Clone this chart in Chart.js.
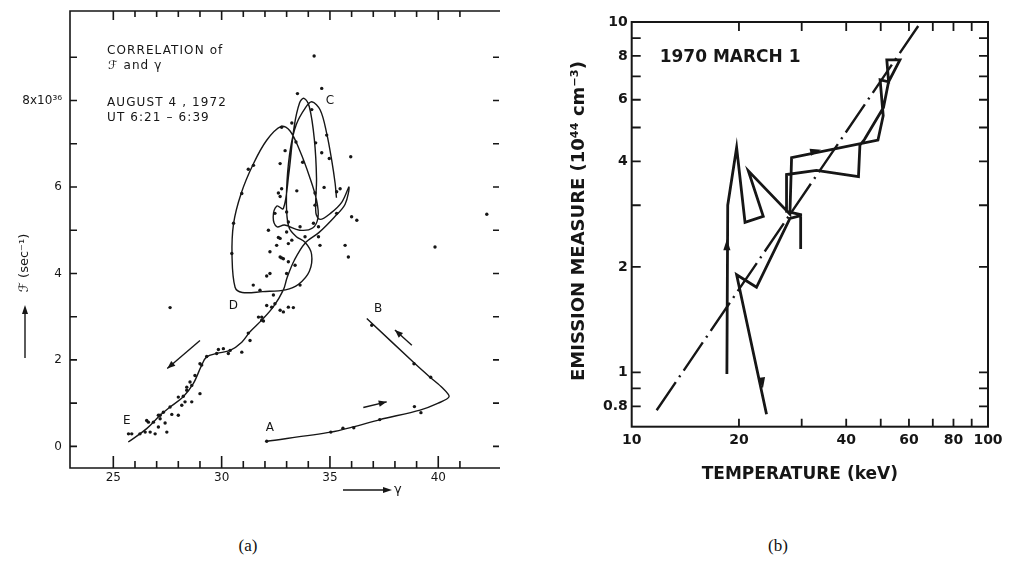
<!DOCTYPE html>
<html>
<head>
<meta charset="utf-8">
<title>Flux–index correlation and emission measure vs. temperature</title>
<script src="https://cdn.jsdelivr.net/npm/chart.js@4.4.1/dist/chart.umd.min.js"></script>
<style>
  html, body { margin: 0; padding: 0; background: #fff; }
  body { width: 1010px; height: 563px; position: relative; overflow: hidden; }
  canvas { position: absolute; top: 0; }
  #panelA { left: 0; }
  #panelB { left: 540px; }
  .caption { position: absolute; top: 536px; font-family: "Liberation Serif", "DejaVu Serif", serif;
             font-size: 17px; color: #111; transform: translateX(-50%); }
</style>
</head>
<body>
<canvas id="panelA" width="520" height="505"></canvas>
<canvas id="panelB" width="470" height="505"></canvas>
<div class="caption" style="left:248px">(a)</div>
<div class="caption" style="left:778px">(b)</div>
<script>
// ---------------- Panel (a): flux F versus spectral index gamma ----------------
const gammaTicks  = [25, 26, 27, 28, 29, 30, 31, 32, 33, 34, 35, 36, 37, 38, 39, 40, 41];
const gammaLabels = [25, 30, 35, 40];
const fluxTicks   = [0, 1, 2, 3, 4, 5, 6, 7, 8, 9];
const fluxLabelValues = [0, 2, 4, 6, 8];
const fluxLabelText   = ['0', '2', '4', '6', '8x10³⁶'];

// measured (gamma, F) points
const fluxDots = [
  [34.27,9.03],[33.50,8.16],[34.62,8.28],[34.16,7.79],[33.24,7.48],[32.77,7.38],[31.47,6.50],[31.23,6.41],
  [33.43,7.04],[34.34,7.02],[34.85,7.20],[32.70,6.54],[33.74,6.57],[32.93,6.84],[34.62,6.79],[34.97,6.66],
  [35.96,6.70],[34.73,5.99],[35.47,5.96],[32.62,5.86],[33.47,5.91],[34.31,5.86],[30.93,5.85],[32.77,5.96],
  [32.70,5.78],[35.31,5.89],[34.31,5.58],[32.46,5.39],[33.00,5.42],[33.08,5.19],[33.62,5.08],[34.24,5.16],
  [34.47,5.08],[35.31,5.39],[36.00,5.31],[36.24,5.23],[32.16,5.00],[32.70,4.81],[33.00,4.96],[33.85,4.85],
  [34.47,4.85],[33.08,4.69],[32.54,4.65],[34.54,4.65],[35.70,4.65],[32.23,4.50],[32.70,4.38],[32.85,4.34],
  [35.85,4.38],[33.08,4.27],[33.39,4.19],[32.23,4.00],[32.08,3.94],[33.00,4.00],[31.46,3.73],[31.77,3.61],
  [32.39,3.50],[33.62,3.73],[32.08,3.26],[32.31,3.22],[32.70,3.15],[33.08,3.22],[31.85,2.99],[32.62,4.83],
  [33.24,4.77],[32.77,4.36],[32.46,3.30],[33.31,3.21],[32.85,3.11],[31.70,2.99],[31.93,2.90],[31.23,2.62],
  [31.31,2.45],[30.93,2.18],[30.08,2.26],[29.85,2.24],[30.31,2.15],[29.31,2.08],[29.00,1.91],[28.77,1.64],
  [28.54,1.49],[28.62,1.41],[29.00,1.22],[28.00,1.14],[28.39,1.30],[30.47,4.46],[30.55,5.16],
  [31.85,2.92],[30.39,2.22],[29.77,2.15],[29.08,1.88],[28.23,1.16],[27.62,0.91],[27.16,0.72],
  [27.62,3.21],[39.85,4.61],[42.24,5.37],
  [28.39,1.37],[28.31,1.03],[28.62,1.03],[28.16,0.95],[28.00,0.72],[27.70,0.74],[27.31,0.79],[27.08,0.72],
  [27.16,0.64],[26.62,0.56],[26.85,0.56],[27.08,0.45],[27.39,0.54],[27.47,0.33],[26.93,0.29],[26.70,0.33],
  [26.47,0.33],[26.23,0.29],[25.85,0.29],[25.70,0.29],[26.54,0.60],
  [32.08,0.12],[35.04,0.33],[35.60,0.42],[36.10,0.43],[37.30,0.62],[38.90,0.92],[39.20,0.78],
  [36.93,2.80],[38.88,1.91],[39.65,1.60]
];

// rising branch A -> B
const pathAB = [
  [32.08,0.12],[35.04,0.33],[36.07,0.45],[37.31,0.62],[39.16,0.84],[40.00,1.00],[40.50,1.15],
  [40.20,1.35],[39.62,1.60],[38.93,1.91],[36.70,2.96]
];

// loops around C, then the decay branch D -> E
const pathCDE = [
  [35.30,5.75],[35.24,6.08],[35.08,6.62],[34.85,7.24],[34.55,7.78],[34.16,7.97],[33.85,7.82],[33.45,7.45],
  [33.18,6.90],[33.02,6.15],[33.00,5.45],[33.12,5.05],[33.45,4.85],[33.85,4.72],[34.15,4.45],[34.05,4.05],
  [33.55,3.75],[32.95,3.62],[31.90,3.58],[30.95,3.56],[30.62,3.68],[30.48,4.40],[30.55,5.15],[30.90,5.85],
  [31.45,6.52],[32.08,7.08],[32.75,7.40],[33.15,7.30],[33.60,6.85],[34.05,6.25],[34.38,5.70],[34.45,5.30],
  [34.20,5.05],[33.60,5.00],[32.90,5.12],[32.55,5.08],[32.38,5.30],[32.55,5.56],[32.85,5.50],[33.10,6.30],
  [33.35,7.40],[33.60,7.95],[33.80,8.05],[34.05,7.85],[34.28,7.10],[34.38,6.20],[34.35,5.40],[34.55,5.25],
  [35.05,5.40],[35.55,5.65],[35.88,6.00],[35.70,5.60],[35.20,5.30],[34.50,4.95],[33.85,4.70],[33.35,4.30],
  [33.02,3.90],[32.85,3.62],[32.40,3.24],[31.85,2.92],[31.31,2.65],[30.93,2.41],[30.39,2.22],[29.77,2.15],
  [29.31,2.07],[29.08,1.88],[28.69,1.45],[28.23,1.15],[27.62,0.91],[27.16,0.72],[26.54,0.41],[25.69,0.10]
];

// direction arrows: [gamma0, F0, gamma1, F1]
const arrowsA = [[29.0,2.45,27.49,1.80],[38.78,2.34,38.0,2.69],[36.54,0.90,37.62,1.03]];
const phaseNames = ['A','B','C','D','E'];
const phaseGamma = [32.23, 37.22, 35.0, 30.54, 25.62];
const phaseFlux  = [0.42, 3.19, 7.99, 3.24, 0.59];

// ---------------- Panel (b): emission measure versus temperature ----------------
const tempTicks  = [20, 30, 40, 50, 60, 70, 80, 90];
const tempLabels = [10, 20, 40, 60, 80, 100];
const emTicks    = [0.8, 0.9, 1, 2, 3, 4, 5, 6, 7, 8, 9, 10];
const emLabels   = [0.8, 1, 2, 4, 6, 8, 10];

const trackTemp = [18.5,18.6,19.7,20.8,23.4,21.25,27.8,28.1,49.1,50.8,49.8,52.6,52.0,56.6,52.6,50.9,45.0,43.7,
                   43.3,33.0,27.2,27.2,29.8,29.8,29.8,27.8,22.4,19.7,23.9];
const trackEM   = [0.99,3.0,4.38,2.68,2.79,3.76,2.83,4.10,4.60,5.40,6.84,6.75,7.80,7.80,6.75,5.70,4.62,4.45,
                   3.62,3.77,3.67,2.88,2.82,2.25,2.80,2.75,1.75,1.90,0.76];
const fitTemp = [11.75, 63.7];
const fitEM   = [0.78, 9.74];
// arrowheads along the track: [T0, EM0, T1, EM1]
const arrowsB = [[18.5,1.9,18.5,2.4],[22.9,1.05,23.35,0.9],[32.0,4.26,34.0,4.32]];

const INK = '#161616';
const FONT_A = '"DejaVu Sans", "Liberation Sans", sans-serif';
const FONT_B = '"DejaVu Sans", "Liberation Sans", sans-serif';
const toXY = pairs => pairs.map(p => ({ x: p[0], y: p[1] }));

function seg(ctx, x0, y0, x1, y1) { ctx.beginPath(); ctx.moveTo(x0, y0); ctx.lineTo(x1, y1); ctx.stroke(); }
function head(ctx, x0, y0, x1, y1, len, half) {
  const a = Math.atan2(y1 - y0, x1 - x0);
  ctx.beginPath();
  ctx.moveTo(x1, y1);
  ctx.lineTo(x1 - len * Math.cos(a) + half * Math.sin(a), y1 - len * Math.sin(a) - half * Math.cos(a));
  ctx.lineTo(x1 - len * Math.cos(a) - half * Math.sin(a), y1 - len * Math.sin(a) + half * Math.cos(a));
  ctx.closePath(); ctx.fill();
}
// let the layout padding alone decide where the plot frame sits
const noEdgePadding = s => { s.paddingTop = 0; s.paddingBottom = 0; s.paddingLeft = 0; s.paddingRight = 0; };

const panelAExtras = {
  id: 'panelAExtras',
  afterDatasetsDraw(chart) {
    const { ctx, chartArea: a, scales: { x, y } } = chart;
    ctx.save();
    ctx.strokeStyle = INK; ctx.fillStyle = INK; ctx.lineCap = 'butt';
    // frame: left, bottom and top edges
    ctx.lineWidth = 1.6;
    ctx.beginPath();
    ctx.moveTo(a.right, a.top); ctx.lineTo(a.left, a.top); ctx.lineTo(a.left, a.bottom); ctx.lineTo(a.right, a.bottom);
    ctx.stroke();
    // inward tick marks
    ctx.lineWidth = 1.6;
    ctx.beginPath();
    for (const v of gammaTicks) {
      const px = x.getPixelForValue(v);
      const major = gammaLabels.indexOf(v) >= 0;
      ctx.moveTo(px, a.bottom); ctx.lineTo(px, a.bottom - (major ? 12 : 7));
      ctx.moveTo(px, a.top); ctx.lineTo(px, a.top + (major ? 9 : 6));
    }
    for (const v of fluxTicks) {
      const py = y.getPixelForValue(v);
      ctx.moveTo(a.left, py); ctx.lineTo(a.left + 7, py);
      ctx.moveTo(a.right - 1, py); ctx.lineTo(a.right - 7, py);
    }
    ctx.stroke();
    // direction arrows
    ctx.lineWidth = 1.4;
    arrowsA.forEach(r => {
      const x0 = x.getPixelForValue(r[0]), y0 = y.getPixelForValue(r[1]);
      const x1 = x.getPixelForValue(r[2]), y1 = y.getPixelForValue(r[3]);
      seg(ctx, x0, y0, x1, y1); head(ctx, x0, y0, x1, y1, 8, 3.2);
    });
    // phase letters
    ctx.font = '12px ' + FONT_A; ctx.textAlign = 'center'; ctx.textBaseline = 'middle';
    phaseNames.forEach((n, i) => ctx.fillText(n, x.getPixelForValue(phaseGamma[i]), y.getPixelForValue(phaseFlux[i])));
    // legend text block
    ctx.textAlign = 'left';
    ctx.font = '12px ' + FONT_A;
    if ('letterSpacing' in ctx) ctx.letterSpacing = '1.1px';
    ctx.fillText('CORRELATION of', 107, 51);
    ctx.fillText('ℱ and γ', 108, 66);
    ctx.fillText('AUGUST 4 , 1972', 107, 103);
    ctx.fillText('UT 6:21 – 6:39', 107, 118);
    if ('letterSpacing' in ctx) ctx.letterSpacing = '0px';
    // axis titles with arrows
    ctx.save();
    ctx.translate(25, 263); ctx.rotate(-Math.PI / 2);
    ctx.font = '13px ' + FONT_A; ctx.textAlign = 'center';
    ctx.fillText('ℱ (sec⁻¹)', 0, 0);
    ctx.restore();
    ctx.lineWidth = 1.4;
    seg(ctx, 25, 358, 25, 312); head(ctx, 25, 358, 25, 305, 9, 3);
    seg(ctx, 343, 490, 385, 490); head(ctx, 343, 490, 392, 490, 9, 3);
    ctx.font = '13px ' + FONT_A; ctx.textAlign = 'left';
    ctx.fillText('γ', 394, 490);
    ctx.restore();
  }
};

new Chart(document.getElementById('panelA'), {
  type: 'scatter',
  data: {
    datasets: [
      { data: toXY(fluxDots), showLine: false, pointRadius: 1.7, pointHoverRadius: 1.7,
        pointBackgroundColor: INK, pointBorderWidth: 0 },
      { data: toXY(pathCDE), showLine: true, pointRadius: 0, borderColor: INK, borderWidth: 1.4, tension: 0.35 },
      { data: toXY(pathAB), showLine: true, pointRadius: 0, borderColor: INK, borderWidth: 1.4, tension: 0.3 }
    ]
  },
  options: {
    responsive: false, devicePixelRatio: 1, animation: false,
    layout: { padding: { top: 11, right: 20, left: 0, bottom: 0 } },
    plugins: { legend: { display: false }, tooltip: { enabled: false } },
    scales: {
      x: {
        type: 'linear', min: 23, max: 42.85,
        grid: { display: false, drawTicks: false }, border: { display: false },
        afterBuildTicks: s => { s.ticks = gammaTicks.map(v => ({ value: v })); },
        afterFit: s => { s.height = 37; noEdgePadding(s); },
        ticks: { padding: 3, autoSkip: false, maxRotation: 0, color: INK, font: { family: FONT_A, size: 12 },
                 callback: v => gammaLabels.includes(v) ? String(v) : '' }
      },
      y: {
        type: 'linear', min: -0.5, max: 10.07,
        grid: { display: false, drawTicks: false }, border: { display: false },
        afterBuildTicks: s => { s.ticks = fluxTicks.map(v => ({ value: v })); },
        afterFit: s => { s.width = 70; noEdgePadding(s); },
        ticks: { padding: 8, autoSkip: false, color: INK, font: { family: FONT_A, size: 12 },
                 callback: v => { const i = fluxLabelValues.indexOf(v); return i < 0 ? '' : fluxLabelText[i]; } }
      }
    }
  },
  plugins: [panelAExtras]
});

const panelBExtras = {
  id: 'panelBExtras',
  afterDatasetsDraw(chart) {
    const { ctx, chartArea: a, scales: { x, y } } = chart;
    ctx.save();
    ctx.strokeStyle = INK; ctx.fillStyle = INK;
    ctx.lineWidth = 2;
    ctx.strokeRect(a.left, a.top, a.right - a.left, a.bottom - a.top);
    ctx.lineWidth = 1.8;
    ctx.beginPath();
    for (const v of tempTicks) {
      const px = x.getPixelForValue(v);
      ctx.moveTo(px, a.bottom); ctx.lineTo(px, a.bottom - 8);
      ctx.moveTo(px, a.top); ctx.lineTo(px, a.top + 9);
    }
    for (const v of emTicks) {
      const py = y.getPixelForValue(v);
      ctx.moveTo(a.left, py); ctx.lineTo(a.left + 9, py);
      ctx.moveTo(a.right, py); ctx.lineTo(a.right - 9, py);
    }
    ctx.stroke();
    arrowsB.forEach(r => {
      head(ctx, x.getPixelForValue(r[0]), y.getPixelForValue(r[1]),
                x.getPixelForValue(r[2]), y.getPixelForValue(r[3]), 11, 3.6);
    });
    ctx.font = 'bold 17px ' + FONT_B; ctx.textAlign = 'left'; ctx.textBaseline = 'middle';
    ctx.fillText('1970 MARCH 1', a.left + 28, a.top + 36);
    ctx.textAlign = 'center';
    ctx.fillText('TEMPERATURE (keV)', (a.left + a.right) / 2 - 10, a.bottom + 48);
    ctx.save();
    ctx.translate(39, 221); ctx.rotate(-Math.PI / 2);
    ctx.font = 'bold 18px ' + FONT_B;
    ctx.fillText('EMISSION MEASURE (10⁴⁴ cm⁻³)', 0, 0);
    ctx.restore();
    ctx.restore();
  }
};

new Chart(document.getElementById('panelB'), {
  type: 'scatter',
  data: {
    datasets: [
      { data: trackTemp.map((t, i) => ({ x: t, y: trackEM[i] })), showLine: true, pointRadius: 0,
        borderColor: INK, borderWidth: 2.8, tension: 0, borderJoinStyle: 'miter' },
      { data: fitTemp.map((t, i) => ({ x: t, y: fitEM[i] })), showLine: true, pointRadius: 0,
        borderColor: INK, borderWidth: 2.4, borderDash: [34, 6, 2, 6], tension: 0 }
    ]
  },
  options: {
    responsive: false, devicePixelRatio: 1, animation: false,
    layout: { padding: { top: 22, right: 22, left: 0, bottom: 0 } },
    plugins: { legend: { display: false }, tooltip: { enabled: false } },
    scales: {
      x: {
        type: 'logarithmic', min: 10, max: 100,
        grid: { display: false, drawTicks: false }, border: { display: false },
        afterBuildTicks: s => { s.ticks = [10, 20, 30, 40, 50, 60, 70, 80, 90, 100].map(v => ({ value: v })); },
        afterFit: s => { s.height = 78.3; noEdgePadding(s); },
        ticks: { padding: 5, autoSkip: false, maxRotation: 0, color: INK, font: { family: FONT_B, size: 14, weight: 'bold' },
                 callback: v => tempLabels.includes(v) ? String(v) : '' }
      },
      y: {
        type: 'logarithmic', min: 0.708, max: 10,
        grid: { display: false, drawTicks: false }, border: { display: false },
        afterBuildTicks: s => { s.ticks = emTicks.map(v => ({ value: v })); },
        afterFit: s => { s.width = 91.7; noEdgePadding(s); },
        ticks: { padding: 4, autoSkip: false, color: INK, font: { family: FONT_B, size: 14, weight: 'bold' },
                 callback: v => emLabels.includes(v) ? String(v) : '' }
      }
    }
  },
  plugins: [panelBExtras]
});
</script>
</body>
</html>
